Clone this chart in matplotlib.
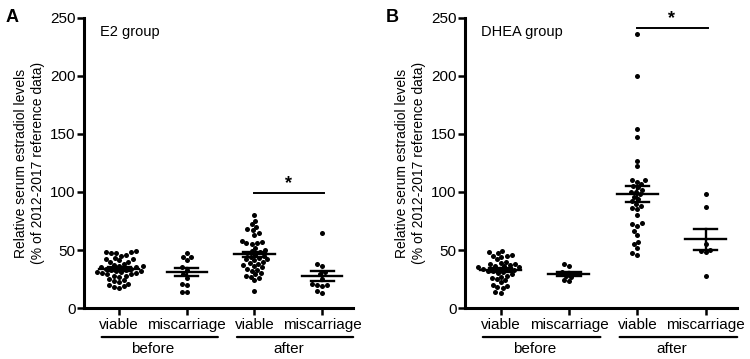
import matplotlib
matplotlib.use('Agg')
import matplotlib.pyplot as plt
import numpy as np
import pandas as pd
import seaborn as sns

plt.rcParams['font.family'] = ['Liberation Sans', 'DejaVu Sans']

groups = ["viable", "miscarriage", "viable", "miscarriage"]
periods = ["before", "after"]

# E2 group (panel A)
e2_before_viable = [49, 48, 48, 47, 47, 46, 45, 43, 42, 42, 41, 40, 40, 38, 37, 36, 36, 35, 35,
                    34, 34, 33, 33, 32, 32, 31, 31, 30, 30, 29, 29, 28, 28, 27, 25, 24, 23, 22,
                    21, 20, 19, 18, 17]
e2_before_misc = [47, 44, 44, 41, 35, 33, 29, 26, 20, 21, 14, 14]
e2_after_viable = [80, 75, 72, 70, 68, 67, 65, 63, 58, 57, 56, 56, 55, 52, 50, 49, 48, 47, 46,
                   45, 44, 43, 42, 42, 41, 40, 39, 38, 37, 36, 35, 34, 33, 32, 30, 29, 28, 27,
                   26, 24, 15]
e2_after_misc = [65, 38, 36, 31, 29, 25, 21, 20, 19, 20, 13, 15]

# DHEA group (panel B)
dhea_before_viable = [49, 48, 47, 46, 45, 45, 44, 42, 40, 39, 38, 38, 37, 36, 36, 35, 35, 34, 34,
                      33, 33, 32, 32, 31, 30, 29, 28, 27, 26, 25, 24, 22, 20, 19, 18, 17, 14, 13]
dhea_before_misc = [38, 36, 31, 29, 28, 27, 23, 24]
dhea_after_viable = [236, 200, 154, 147, 127, 122, 110, 110, 109, 107, 105, 104, 102, 100, 100,
                     98, 96, 94, 92, 90, 88, 86, 85, 80, 73, 72, 71, 66, 63, 57, 55, 52, 47, 46]
dhea_after_misc = [98, 87, 55, 50, 49, 48, 28]

panels = [
    ("A", "E2 group", [e2_before_viable, e2_before_misc, e2_after_viable, e2_after_misc], 99),
    ("B", "DHEA group", [dhea_before_viable, dhea_before_misc, dhea_after_viable, dhea_after_misc], 241),
]

fig = plt.figure(figsize=(7.5, 3.59), dpi=100)
axes = [fig.add_axes([0.112, 0.142, 0.359, 0.808]),
        fig.add_axes([0.620, 0.142, 0.363, 0.808])]

for ax, (letter, title, data, sig_y) in zip(axes, panels):
    df = pd.DataFrame({"pos": np.concatenate([[i] * len(d) for i, d in enumerate(data)]),
                       "val": np.concatenate(data)})
    sns.swarmplot(x="pos", y="val", data=df, ax=ax, color="black", size=3.6, native_scale=True)
    for i, d in enumerate(data):
        m = np.mean(d)
        se = np.std(d, ddof=1) / np.sqrt(len(d))
        ax.plot([i - 0.3, i + 0.3], [m, m], color="black", lw=1.7, zorder=3)
        ax.plot([i, i], [m - se, m + se], color="black", lw=1.7, zorder=3)
        ax.plot([i - 0.17, i + 0.17], [m + se, m + se], color="black", lw=1.7, zorder=3)
        ax.plot([i - 0.17, i + 0.17], [m - se, m - se], color="black", lw=1.7, zorder=3)

    ax.set_xlim(-0.52, 3.46)
    ax.set_ylim(0, 250)
    ax.set_yticks([0, 50, 100, 150, 200, 250])
    ax.set_xticks(range(4))
    ax.set_xticklabels(groups, fontsize=11)
    ax.tick_params(axis='y', labelsize=11, width=1.8, length=5, pad=1)
    ax.tick_params(axis='x', width=1.8, length=5, pad=2)
    for s in ["top", "right"]:
        ax.spines[s].set_visible(False)
    for s in ["left", "bottom"]:
        ax.spines[s].set_linewidth(2.2)
    ax.set_xlabel("")
    ax.set_ylabel("Relative serum estradiol levels\n(% of 2012-2017 reference data)",
                  fontsize=10, labelpad=4)
    ax.text(0.06, 0.975, title, transform=ax.transAxes, fontsize=10.5, va="top")
    ax.text(-0.29, 1.0, letter, transform=ax.transAxes, fontsize=13, fontweight="bold",
            va="center")

    # significance bar between the two "after" groups
    ax.plot([2, 3.03], [sig_y, sig_y], color="black", lw=1.4, clip_on=False)
    ax.text(2.5, sig_y + 1, "*", ha="center", va="bottom", fontsize=13, fontweight="bold")

    # period labels under the tick labels
    for j, p in enumerate(periods):
        x0, x1 = 2 * j - 0.3, 2 * j + 1.5
        ax.annotate("", xy=(x0, -0.1), xytext=(x1, -0.1), xycoords=("data", "axes fraction"),
                    arrowprops=dict(arrowstyle="-", lw=1.6, color="black"))
        ax.text(2 * j + 0.5, -0.142, p, transform=ax.get_xaxis_transform(), ha="center",
                va="center", fontsize=11)

plt.savefig("out.png", dpi=100)
